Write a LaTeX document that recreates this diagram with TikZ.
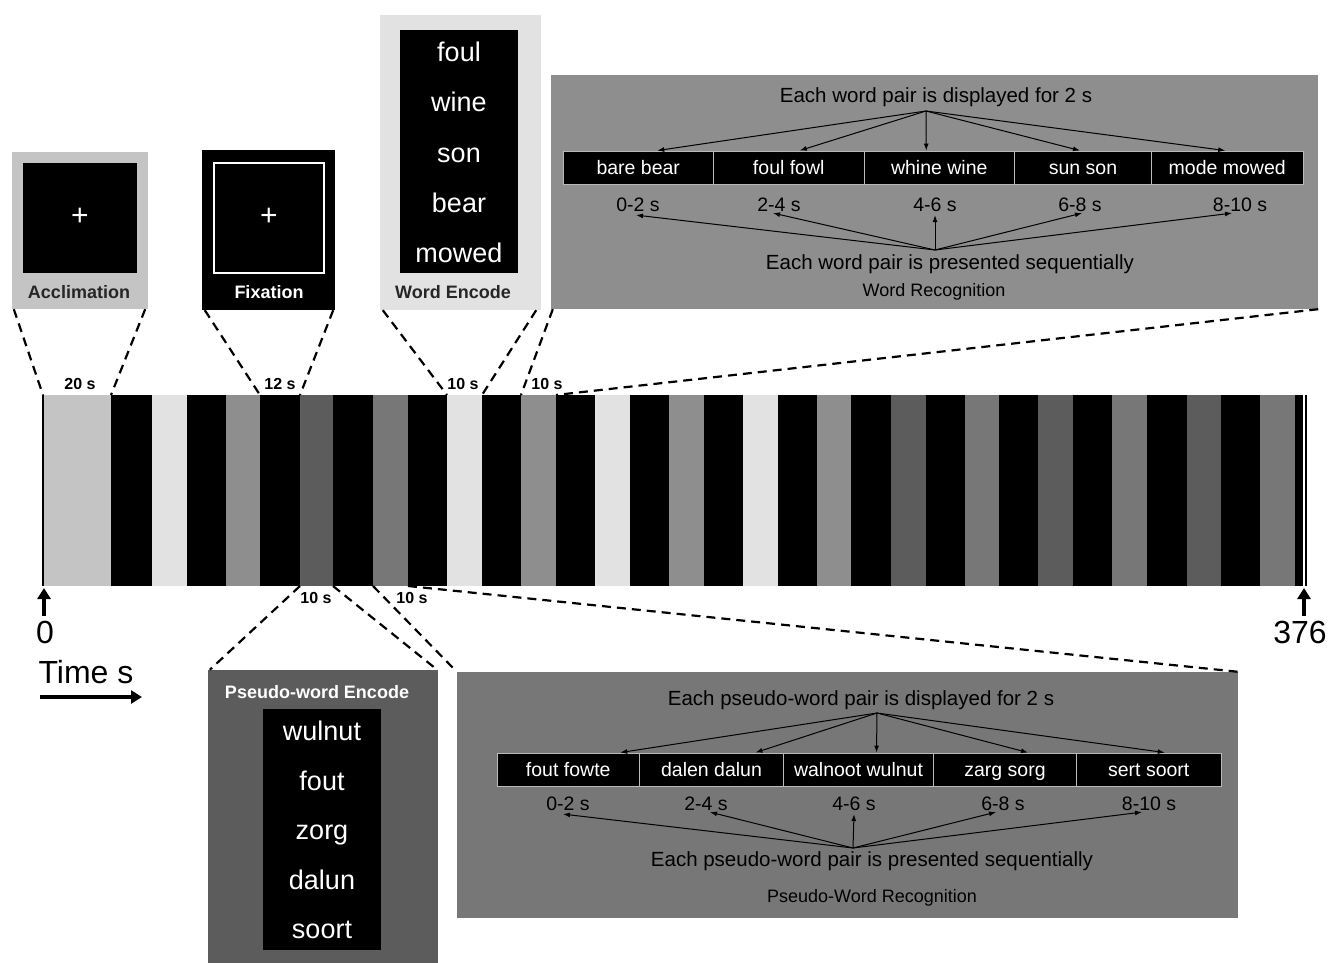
\documentclass[tikz,border=0pt]{standalone}
\usepackage{fontspec}
\setmainfont{Liberation Sans}
\usetikzlibrary{arrows.meta}
\definecolor{accgray}{HTML}{C4C4C4}
\definecolor{wegray}{HTML}{E2E2E2}
\definecolor{wrgray}{HTML}{8E8E8E}
\definecolor{pegray}{HTML}{5C5C5C}
\definecolor{prgray}{HTML}{777777}
\newcommand{\fsz}[1]{\fontsize{#1}{#1}\selectfont}

\begin{document}
\begin{tikzpicture}[x=1pt,y=-1pt,
  every node/.style={inner sep=0pt},
  blackscreen/.style={fill=black,text=white},
  boxlabel/.style={font=\bfseries\fsz{18}},
  wordtxt/.style={text=white,font=\fsz{27},anchor=base},
  pairbox/.style={fill=black,draw=gray!55,line width=0.9pt,text=white,minimum height=33,text height=16pt,text depth=2pt,font=\fsz{19.5}},
  paneltxt/.style={font=\fsz{20.5}},
  timetxt/.style={font=\fsz{19.5}},
  seclabel/.style={font=\bfseries\fsz{16}},
  zoomline/.style={line width=2.2pt,dash pattern=on 9pt off 6pt},
  pairarrow/.style={-{Latex[length=7pt,width=5pt]},line width=1pt},
  bigarrow/.style={-{Triangle[length=11pt,width=13pt]},line width=3.5pt}]

\useasboundingbox (0,0) rectangle (1330,963);

\path (43,395) coordinate(a0);
\path (111,395) coordinate(a1);
\path (260,395) coordinate(f0);
\path (300,395) coordinate(f1);
\path (447,395) coordinate(e0);
\path (482,395) coordinate(e1);
\path (521,395) coordinate(r0);
\path (556,395) coordinate(r1);
\path (300,586) coordinate(p0);
\path (333,586) coordinate(p1);
\path (373,586) coordinate(q0);
\path (408,586) coordinate(q1);

\fill[black] (111,395) rectangle (1303,586);
\fill[accgray] (43,395) rectangle (111,586);
\fill[wegray] (152,395) rectangle (187,586);
\fill[wrgray] (226,395) rectangle (260,586);
\fill[pegray] (300,395) rectangle (333,586);
\fill[prgray] (373,395) rectangle (408,586);
\fill[wegray] (447,395) rectangle (482,586);
\fill[wrgray] (521,395) rectangle (556,586);
\fill[wegray] (595,395) rectangle (630,586);
\fill[wrgray] (669,395) rectangle (704,586);
\fill[wegray] (743,395) rectangle (778,586);
\fill[wrgray] (817,395) rectangle (851,586);
\fill[pegray] (891,395) rectangle (926,586);
\fill[prgray] (965,395) rectangle (999,586);
\fill[pegray] (1038,395) rectangle (1073,586);
\fill[prgray] (1112,395) rectangle (1147,586);
\fill[pegray] (1187,395) rectangle (1221,586);
\fill[prgray] (1260,395) rectangle (1295,586);
\draw[line width=2pt] (a0) -- (43,586);
\draw[line width=2pt] (1306,395) coordinate(endtop) -- (1306,586);

\node[fill=accgray,minimum width=136,minimum height=157] (acc) at (80,230.5) {};
\node[blackscreen,minimum width=114,minimum height=110] (accscr) at (80,218) {};
\node[text=white,font=\fsz{30}] (acccross) at (80,217) {+};
\node[boxlabel,text=black!85] (acclab) at (79,292) {Acclimation};

\node[fill=black,minimum width=133,minimum height=160] (fix) at (268.5,230) {};
\node[draw=white,line width=1.5pt,minimum width=110,minimum height=110] (fixscr) at (269,218) {};
\node[text=white,font=\fsz{30}] (fixcross) at (269,217) {+};
\node[boxlabel,text=white] (fixlab) at (269,292) {Fixation};

\node[fill=wegray,minimum width=161,minimum height=295] (wenc) at (460.5,162.5) {};
\node[blackscreen,minimum width=118,minimum height=243] (wencscr) at (459,151.5) {};
\node[wordtxt] (we1) at (459,62) {foul};
\node[wordtxt] (we2) at (459,112) {wine};
\node[wordtxt] (we3) at (459,162) {son};
\node[wordtxt] (we4) at (459,212) {bear};
\node[wordtxt] (we5) at (459,262) {mowed};
\node[boxlabel,text=black!85] (wenclab) at (453,292) {Word Encode};

\node[fill=wrgray,minimum width=767,minimum height=234] (wrec) at (934.5,192) {};
\node[paneltxt] (wrtop) at (936,97) {Each word pair is displayed for 2 s};
\node[pairbox,minimum width=150.5] (w1) at (638.25,167.5) {bare bear};
\node[pairbox,minimum width=150.5] (w2) at (788.75,167.5) {foul fowl};
\node[pairbox,minimum width=150.5] (w3) at (939.25,167.5) {whine wine};
\node[pairbox,minimum width=137] (w4) at (1083,167.5) {sun son};
\node[pairbox,minimum width=151.5] (w5) at (1227.25,167.5) {mode mowed};
\node[timetxt] (wt1) at (638,205) {0-2 s};
\node[timetxt] (wt2) at (779,205) {2-4 s};
\node[timetxt] (wt3) at (935,205) {4-6 s};
\node[timetxt] (wt4) at (1080,205) {6-8 s};
\node[timetxt] (wt5) at (1240,205) {8-10 s};
\node[paneltxt] (wrbot) at (950,264) {Each word pair is presented sequentially};
\node[font=\fsz{18}] (wrlab) at (934,292) {Word Recognition};
\path (926,111) coordinate(wrfan);
\path (935,250) coordinate(wrsrc);
\draw[pairarrow] (wrfan) -- ([xshift=19pt]w1.north);
\draw[pairarrow] (wrfan) -- ([xshift=11pt]w2.north);
\draw[pairarrow] (wrfan) -- ([xshift=-13pt]w3.north);
\draw[pairarrow] (wrfan) -- ([xshift=-3pt]w4.north);
\draw[pairarrow] (wrfan) -- ([xshift=-2pt]w5.north);
\draw[pairarrow] (wrsrc) -- ([xshift=-2pt,yshift=-3pt]wt1.south);
\draw[pairarrow] (wrsrc) -- ([xshift=-6pt,yshift=-1pt]wt2.south);
\draw[pairarrow] (wrsrc) -- ([yshift=-3pt]wt3.south);
\draw[pairarrow] (wrsrc) -- ([xshift=2pt,yshift=-1pt]wt4.south);
\draw[pairarrow] (wrsrc) -- ([xshift=-8pt,yshift=-1pt]wt5.south);

\node[fill=pegray,minimum width=230,minimum height=293] (penc) at (323,816.5) {};
\node[boxlabel,text=white] (penclab) at (317,692) {Pseudo-word Encode};
\node[blackscreen,minimum width=118,minimum height=241] (pencscr) at (322,829.5) {};
\node[wordtxt] (pe1) at (322,740) {wulnut};
\node[wordtxt] (pe2) at (322,790) {fout};
\node[wordtxt] (pe3) at (322,839) {zorg};
\node[wordtxt] (pe4) at (322,889) {dalun};
\node[wordtxt] (pe5) at (322,938) {soort};

\node[fill=prgray,minimum width=781,minimum height=246] (prec) at (847.5,795) {};
\node[paneltxt] (prtop) at (861,700) {Each pseudo-word pair is displayed for 2 s};
\node[pairbox,minimum width=142.5] (s1) at (568.25,769.5) {fout fowte};
\node[pairbox,minimum width=144] (s2) at (711.5,769.5) {dalen dalun};
\node[pairbox,minimum width=150] (s3) at (858.5,769.5) {walnoot wulnut};
\node[pairbox,minimum width=143] (s4) at (1005,769.5) {zarg sorg};
\node[pairbox,minimum width=144.5] (s5) at (1148.75,769.5) {sert soort};
\node[timetxt] (st1) at (568,804) {0-2 s};
\node[timetxt] (st2) at (706,804) {2-4 s};
\node[timetxt] (st3) at (854,804) {4-6 s};
\node[timetxt] (st4) at (1003,804) {6-8 s};
\node[timetxt] (st5) at (1149,804) {8-10 s};
\node[paneltxt] (prbot) at (872,861) {Each pseudo-word pair is presented sequentially};
\node[font=\fsz{18}] (prlab) at (872,898) {Pseudo-Word Recognition};
\path (877,713) coordinate(prfan);
\path (853,848) coordinate(prsrc);
\draw[pairarrow] (prfan) -- ([xshift=52pt]s1.north);
\draw[pairarrow] (prfan) -- ([xshift=44pt]s2.north);
\draw[pairarrow] (prfan) -- ([xshift=18pt]s3.north);
\draw[pairarrow] (prfan) -- ([xshift=23pt]s4.north);
\draw[pairarrow] (prfan) -- ([xshift=16pt]s5.north);
\draw[pairarrow] (prsrc) -- ([xshift=-5pt,yshift=-3pt]st1.south);
\draw[pairarrow] (prsrc) -- ([xshift=4pt,yshift=-1pt]st2.south);
\draw[pairarrow] (prsrc) -- ([yshift=-3pt]st3.south);
\draw[pairarrow] (prsrc) -- ([xshift=-7pt,yshift=-1pt]st4.south);
\draw[pairarrow] (prsrc) -- ([xshift=-7pt,yshift=-1pt]st5.south);

\draw[zoomline] ([xshift=2pt]acc.south west) -- (a0);
\draw[zoomline] ([xshift=-3pt]acc.south east) -- (a1);
\draw[zoomline] ([xshift=3pt]fix.south west) -- (f0);
\draw[zoomline] ([xshift=-2pt]fix.south east) -- (f1);
\draw[zoomline] ([xshift=3pt]wenc.south west) -- (e0);
\draw[zoomline] ([xshift=-5pt]wenc.south east) -- (e1);
\draw[zoomline] ([xshift=2pt]wrec.south west) -- (r0);
\draw[zoomline] (wrec.south east) -- (r1);
\draw[zoomline] (p0) -- ([xshift=2pt]penc.north west);
\draw[zoomline] (p1) -- ([xshift=-1pt]penc.north east);
\draw[zoomline] (q0) -- (prec.north west);
\draw[zoomline] (q1) -- (prec.north east);

\node[seclabel,fill=white,inner sep=1pt] (l20) at (80,384) {20 s};
\node[seclabel,fill=white,inner sep=1pt] (l12) at (280,384) {12 s};
\node[seclabel,fill=white,inner sep=1pt] (lwe) at (463,384) {10 s};
\node[seclabel,fill=white,inner sep=1pt] (lwr) at (547,384) {10 s};
\node[seclabel,fill=white,inner sep=1pt] (lpe) at (316,598) {10 s};
\node[seclabel,fill=white,inner sep=1pt] (lpr) at (412,598) {10 s};

\path (44,616) coordinate(zerolow);
\path (44,588) coordinate(zerotip);
\path (1304,616) coordinate(endlow);
\path (1304,588) coordinate(endtip);
\draw[bigarrow] (zerolow) -- (zerotip);
\draw[bigarrow] (endlow) -- (endtip);
\node[font=\fsz{32}] (zero) at (45,632) {0};
\node[font=\fsz{32}] (total) at (1300,632) {376};
\node[font=\fsz{32}] (timelab) at (86,672) {Time s};
\path (40,697) coordinate(tstart);
\path (142,697) coordinate(tend);
\draw[bigarrow] (tstart) -- (tend);

\end{tikzpicture}
\end{document}
